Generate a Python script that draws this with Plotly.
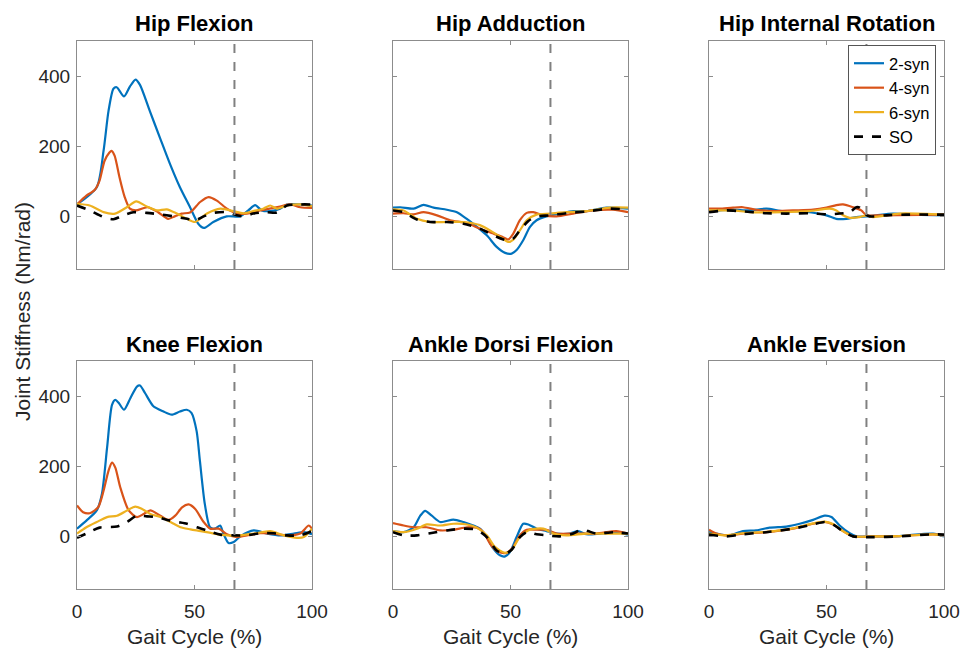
import plotly.graph_objects as go

# ---------------- data ----------------
toe_off = 67  # % gait cycle, dashed vertical line

# Hip Flexion
hf_2_x = [0, 8.4, 11.3, 13.4, 15.5, 16.9, 20, 22.5, 24.9, 26.8, 31, 35.3, 39.6, 43.8, 48.1, 51.6, 54, 58, 63.7, 69.4, 72.9, 75.8, 78.6, 82.2, 86.4, 89.3, 95, 100]
hf_2_y = [34, 83, 187, 300, 364, 368, 342, 370, 390, 375, 300, 224, 149, 83, 26, -21, -33, -16, 0, 0, 17, 32, 17, 15, 22, 34, 34, 31]
hf_4_x = [0, 4, 7.5, 9.6, 11.7, 13.8, 14.7, 16, 18.1, 20.3, 22.5, 25, 30, 34.5, 38.8, 41.6, 44.5, 48.1, 52.4, 56, 59.5, 63.8, 68, 72.3, 77.9, 82, 86.4, 90.7, 95, 100]
hf_4_y = [34, 59, 75, 102, 158, 182, 187, 173, 111, 55, 22, 17, 26, 12, -7, 0, 8, 11, 41, 55, 45, 22, 8, 8, 17, 22, 28, 34, 26, 24]
hf_6_x = [0, 5.4, 11.3, 16.2, 21.2, 25.2, 29.7, 34, 38.2, 42.5, 46.8, 50.3, 55.3, 61, 66.5, 70.8, 75, 79.3, 82.2, 85, 89.3, 95, 100]
hf_6_y = [36, 31, 12, 8, 26, 43, 28, 17, 20, 8, -7, -16, 8, 22, 15, 9, 15, 22, 31, 22, 31, 34, 29]
hf_so_x = [0, 5.4, 11.3, 15.5, 19.8, 24, 29.7, 35.3, 41, 46.8, 50.3, 53.9, 58, 63.8, 68, 70.8, 75, 80.7, 85, 89.3, 95, 100]
hf_so_y = [31, 17, -2, -8, 3, 12, 10, 6, 0, -7, -11, 0, 10, 12, 3, 0, 8, 12, 11, 31, 34, 34]

# Hip Adduction
ha_2_x = [0, 3.1, 8.8, 13, 17.3, 22.9, 27.2, 31.4, 35.7, 39.9, 44.1, 47.7, 50.5, 52.6, 55.4, 58.3, 61.1, 65.3, 71, 76.7, 82.3, 90.8, 100]
ha_2_y = [25, 26, 22, 33, 25, 19, 12, -7, -30, -54, -87, -104, -106, -96, -68, -30, -11, 0, 8, 15, 15, 25, 22]
ha_4_x = [0, 4.5, 8.8, 13, 18.7, 24.3, 31.4, 37, 42.7, 47, 49, 51.2, 54, 56.9, 59.7, 63.9, 69.6, 76.7, 85.1, 93.6, 100]
ha_4_y = [8, 9, 6, 12, 3, -11, -19, -35, -49, -60, -66, -49, -11, 10, 12, 3, 0, 8, 17, 19, 12]
ha_6_x = [0, 4.5, 10.2, 15.8, 22.9, 30, 37, 41.3, 45.5, 49, 51.2, 54, 56.9, 61.1, 66.8, 73.8, 82.3, 92.2, 100]
ha_6_y = [20, 17, -7, -16, -16, -16, -25, -40, -58, -73, -66, -40, -11, 5, 8, 12, 15, 25, 25]
ha_so_x = [0, 4.5, 10.2, 15.8, 22.9, 30, 37, 42.7, 47, 49, 51.2, 54, 57.6, 61.1, 66.8, 73.8, 82.3, 92.2, 100]
ha_so_y = [17, 12, -9, -16, -16, -21, -35, -54, -66, -70, -63, -40, -13, 0, 3, 9, 14, 22, 19]

# Hip Internal Rotation
hr_2_x = [0, 4.5, 10.2, 17.3, 24.4, 31.5, 38.6, 45.7, 50, 54.1, 58.4, 62.7, 67, 71.2, 78.3, 88.2, 100]
hr_2_y = [15, 17, 19, 17, 22, 15, 15, 9, 3, -7, -7, -2, 0, 3, 8, 5, 3]
hr_4_x = [0, 4.5, 10.2, 14.5, 20.1, 27.2, 35.7, 44.3, 50, 54.2, 57, 61.3, 64.8, 67, 71.2, 100]
hr_4_y = [22, 22, 25, 26, 19, 15, 17, 19, 25, 32, 34, 26, 17, 3, 3, 5]
hr_6_x = [0, 10.2, 17.3, 31.5, 42.8, 51.3, 54.2, 57, 59.9, 64.1, 67, 69.8, 81, 100]
hr_6_y = [17, 17, 12, 12, 15, 22, 17, 3, -4, -2, 3, -2, 8, 5]
hr_so_x = [0, 7.4, 13, 24.4, 32.9, 42.8, 50, 55.6, 59.9, 62.7, 64.1, 66.2, 68.4, 75.5, 84, 100]
hr_so_y = [12, 17, 15, 9, 8, 9, 6, 8, 12, 26, 25, 8, 0, 3, 5, 5]

# Knee Flexion
kf_2_x = [0, 4, 8.4, 10.6, 12.8, 14.9, 16.3, 17.8, 20, 22.7, 25.5, 26.8, 29, 32.5, 36.8, 40.3, 43.8, 46.7, 48.7, 50.9, 52.3, 54.4, 56.6, 58.7, 60.9, 62.3, 64.5, 66.7, 69.5, 75.2, 80.9, 86.6, 92.3, 96.6, 100]
kf_2_y = [22, 45, 74, 121, 253, 375, 389, 380, 361, 394, 427, 430, 408, 371, 356, 347, 356, 361, 352, 300, 215, 92, 26, 22, 31, 8, -19, -16, 0, 17, 8, 3, 8, 12, 6]
kf_4_x = [0, 2.6, 5.4, 9, 11.3, 13.4, 14.9, 16.3, 18.4, 22, 25.5, 28.4, 31.2, 35.5, 39, 41.8, 44.7, 47.5, 50.3, 53.9, 56.7, 60.3, 63.8, 68, 72.3, 78, 83.6, 89.3, 95, 98.6, 100]
kf_4_y = [88, 69, 66, 83, 130, 187, 210, 196, 140, 74, 55, 64, 74, 59, 47, 59, 83, 91, 78, 41, 22, 22, 6, -2, 3, 9, 8, 3, 8, 31, 22]
kf_6_x = [0, 4, 8.4, 12.8, 17, 21.3, 24.8, 27.7, 31.2, 35.5, 39.8, 44, 48.3, 52.6, 58.3, 64, 69.5, 75.2, 82.3, 88, 93.6, 96.5, 100]
kf_6_y = [8, 26, 41, 55, 59, 74, 85, 78, 64, 55, 41, 26, 20, 15, 8, 3, 3, 8, 15, 3, -4, -2, 22]
kf_so_x = [0, 4, 9.6, 17, 21.3, 25.5, 29.8, 34, 38.3, 42.5, 46.8, 51, 55.3, 61, 66.7, 72.4, 78, 83.7, 89.3, 95, 100]
kf_so_y = [-4, 8, 25, 28, 41, 59, 57, 55, 47, 41, 36, 26, 17, 5, 3, 3, 9, 9, 3, 3, 15]

# Ankle Dorsi Flexion
ad_2_x = [0, 4.5, 8.8, 11.6, 13.7, 16.5, 20.1, 25.7, 30, 34.2, 37, 39.9, 42.7, 45.5, 47.7, 49.8, 52.6, 55.4, 57.6, 61.1, 65.3, 69.6, 75.2, 78.8, 82.3, 88, 95, 100]
ad_2_y = [15, 12, 26, 59, 73, 59, 41, 48, 41, 31, 22, -2, -35, -54, -57, -44, -2, 36, 34, 22, 15, 8, 8, 15, 6, 8, 12, 5]
ad_4_x = [0, 4.5, 8.8, 14.4, 20.1, 25.7, 31.4, 35.6, 38.5, 41.3, 44.8, 48.4, 51.2, 54, 56.9, 61.1, 65.3, 69.6, 78, 86.6, 95, 100]
ad_4_y = [38, 31, 26, 26, 17, 19, 26, 25, 12, -21, -44, -47, -30, 3, 19, 19, 19, 8, 8, 8, 15, 8]
ad_6_x = [0, 4.5, 10.2, 14.4, 20.1, 25.7, 31.4, 35.6, 39.9, 43.4, 47.7, 50.5, 54, 58.3, 63.9, 68.2, 73.8, 82.3, 90.8, 100]
ad_6_y = [15, 12, 22, 34, 31, 36, 34, 25, 3, -30, -47, -38, -2, 19, 22, 8, 3, 8, 8, 8]
ad_so_x = [0, 4.5, 10.2, 15.8, 22.9, 30, 35.6, 39.9, 44.1, 47.7, 50.5, 54, 56.9, 61.1, 65.3, 71, 76.7, 80.2, 83, 86.6, 93.6, 100]
ad_so_y = [12, 3, 3, 9, 17, 22, 19, -2, -40, -49, -38, -2, 12, 6, 3, 0, 8, 20, 15, 8, 12, 8]

# Ankle Eversion
ae_2_x = [0, 4.5, 8.8, 14.5, 20.1, 25.8, 32.9, 38.6, 44.3, 49.2, 52.1, 55.6, 59.9, 62.7, 69.8, 81.1, 95.3, 100]
ae_2_y = [12, 6, 3, 15, 17, 25, 28, 36, 47, 59, 55, 31, 9, 0, 0, 1, 8, 0]
ae_4_x = [0, 3.1, 7.4, 14.5, 24.4, 35.7, 44.3, 49.2, 52.8, 57, 61.3, 69.8, 81.1, 95.3, 100]
ae_4_y = [19, 8, 3, 8, 12, 22, 36, 41, 34, 15, 0, 0, 1, 6, 3]
ae_6_x = [0, 7.4, 14.5, 24.4, 35.7, 44.3, 49.2, 52.8, 57, 61.3, 69.8, 81.1, 95.3, 100]
ae_6_y = [8, 3, 9, 13, 23, 37, 42, 35, 15, 0, 0, 1, 6, 4]
ae_so_x = [0, 7.4, 14.5, 24.4, 35.7, 44.3, 49.2, 52.8, 57, 61.3, 69.8, 81.1, 95.3, 100]
ae_so_y = [5, 0, 6, 12, 22, 34, 41, 34, 15, 0, -2, 0, 6, 5]

titles = ["Hip Flexion", "Hip Adduction", "Hip Internal Rotation",
          "Knee Flexion", "Ankle Dorsi Flexion", "Ankle Eversion"]
series_names = ["2-syn", "4-syn", "6-syn", "SO"]
x_label = "Gait Cycle (%)"
y_label = "Joint Stiffness (Nm/rad)"
x_ticks = [0, 50, 100]
y_ticks = [0, 200, 400]
x_range = [0, 100]
y_range = [-150, 500]

panels = [
    [(hf_2_x, hf_2_y), (hf_4_x, hf_4_y), (hf_6_x, hf_6_y), (hf_so_x, hf_so_y)],
    [(ha_2_x, ha_2_y), (ha_4_x, ha_4_y), (ha_6_x, ha_6_y), (ha_so_x, ha_so_y)],
    [(hr_2_x, hr_2_y), (hr_4_x, hr_4_y), (hr_6_x, hr_6_y), (hr_so_x, hr_so_y)],
    [(kf_2_x, kf_2_y), (kf_4_x, kf_4_y), (kf_6_x, kf_6_y), (kf_so_x, kf_so_y)],
    [(ad_2_x, ad_2_y), (ad_4_x, ad_4_y), (ad_6_x, ad_6_y), (ad_so_x, ad_so_y)],
    [(ae_2_x, ae_2_y), (ae_4_x, ae_4_y), (ae_6_x, ae_6_y), (ae_so_x, ae_so_y)],
]

# ---------------- styling ----------------
W, H = 961, 651
colors = ["#0072BD", "#D95319", "#EDB120", "#000000"]
dashes = ["solid", "solid", "solid", "dash"]
widths = [2.2, 2.2, 2.2, 2.6]
FONT = "Liberation Sans, Arial, Helvetica, sans-serif"
AX_COLOR = "#8c8c8c"
TXT_COLOR = "#262626"

col_px = [(77, 312), (393, 628), (709, 944)]
row_px = [(41, 269), (361, 589)]

fig = go.Figure()

for i, series in enumerate(panels):
    r, c = divmod(i, 3)
    ax = i + 1
    xa = "x" if ax == 1 else f"x{ax}"
    ya = "y" if ax == 1 else f"y{ax}"
    for k, (xs, ys) in enumerate(series):
        fig.add_trace(go.Scatter(
            x=xs, y=ys, mode="lines", name=series_names[k],
            line=dict(color=colors[k], width=widths[k], dash=dashes[k],
                      shape="spline", smoothing=0.7),
            xaxis=xa, yaxis=ya, showlegend=(i == 2),
        ))
    x0, x1 = col_px[c]
    y0, y1 = row_px[r]
    xkey = "xaxis" if ax == 1 else f"xaxis{ax}"
    ykey = "yaxis" if ax == 1 else f"yaxis{ax}"
    fig.layout[xkey] = dict(
        domain=[x0 / W, x1 / W], anchor=ya, range=x_range, automargin=False,
        tickvals=x_ticks, showticklabels=(r == 1), ticks="inside", ticklen=4,
        tickcolor=AX_COLOR, showline=True, linecolor=AX_COLOR, linewidth=1,
        mirror="ticks", showgrid=False, zeroline=False,
        tickfont=dict(family=FONT, size=19, color=TXT_COLOR),
        ticklabelstandoff=5,
    )
    fig.layout[ykey] = dict(
        domain=[1 - y1 / H, 1 - y0 / H], anchor=xa, range=y_range, automargin=False,
        tickvals=y_ticks, showticklabels=(c == 0), ticks="inside", ticklen=4,
        tickcolor=AX_COLOR, showline=True, linecolor=AX_COLOR, linewidth=1,
        mirror="ticks", showgrid=False, zeroline=False,
        tickfont=dict(family=FONT, size=19, color=TXT_COLOR),
        ticklabelstandoff=2,
    )
    fig.add_shape(type="line", xref=xa, yref=f"{ya} domain",
                  x0=toe_off, x1=toe_off, y0=0, y1=1,
                  line=dict(color="#808080", width=2, dash="dash"))
    fig.add_annotation(text=f"<b>{titles[i]}</b>", xref="paper", yref="paper",
                       x=(x0 + x1) / 2 / W, y=1 - (y0 - 17) / H,
                       xanchor="center", yanchor="middle", showarrow=False,
                       font=dict(family=FONT, size=22, color="#000000"))
    if r == 1:
        fig.add_annotation(text=x_label, xref="paper", yref="paper",
                           x=(x0 + x1) / 2 / W, y=1 - 636 / H,
                           xanchor="center", yanchor="middle", showarrow=False,
                           font=dict(family=FONT, size=21, color=TXT_COLOR))

fig.add_annotation(text=y_label, xref="paper", yref="paper",
                   x=23 / W, y=1 - 312 / H, textangle=-90, showarrow=False,
                   xanchor="center", yanchor="middle",
                   font=dict(family=FONT, size=21, color=TXT_COLOR))

fig.update_layout(
    width=W, height=H, margin=dict(l=0, r=0, t=0, b=0),
    paper_bgcolor="white", plot_bgcolor="white",
    legend=dict(x=848 / W, y=1 - 45 / H, xanchor="left", yanchor="top",
                bgcolor="white", bordercolor="#555555", borderwidth=1,
                font=dict(family=FONT, size=16.5, color="#000000"),
                tracegroupgap=0, itemwidth=30),
    showlegend=True,
)

fig.write_html("out.html",
               config={"displayModeBar": False},
               post_script="document.body.style.margin='0px';"
                           "document.body.style.overflow='hidden';")
